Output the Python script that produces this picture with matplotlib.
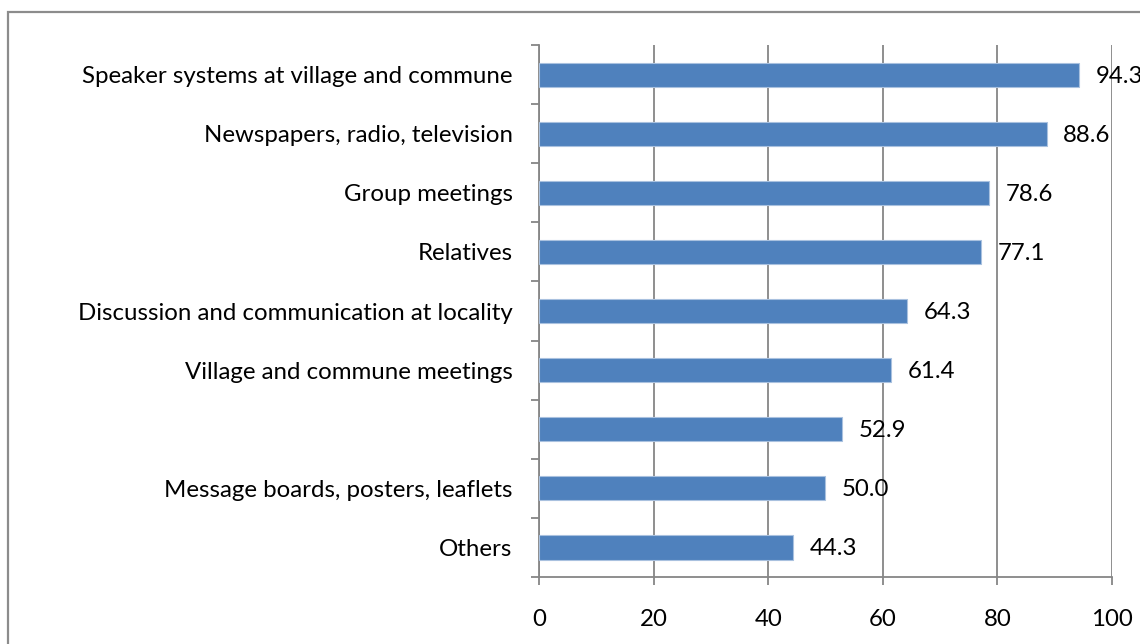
import matplotlib.pyplot as plt
from matplotlib.patches import Rectangle

categories = [
    "Speaker systems at village and commune",
    "Newspapers, radio, television",
    "Group meetings",
    "Relatives",
    "Discussion and communication at locality",
    "Village and commune meetings",
    "",
    "Message boards, posters, leaflets",
    "Others",
]
values = [94.3, 88.6, 78.6, 77.1, 64.3, 61.4, 52.9, 50.0, 44.3]
x_ticks = [0, 20, 40, 60, 80, 100]

plt.rcParams["font.family"] = ["Lato", "DejaVu Sans"]
fs = 17.3

fig = plt.figure(figsize=(11.4, 6.44), dpi=100)
ax = fig.add_axes([0.4728, 0.104, 0.5026, 0.826])

# outer chart frame, running off the right and bottom edges
fig.patches.append(Rectangle((8 / 1140, -0.2), 1.2, 1.2 - 12 / 644,
                             transform=fig.transFigure, fill=False,
                             edgecolor="#8c8c8c", linewidth=1.6))

pos = list(range(len(categories)))
ax.barh(pos, values, height=0.41, color="#4f81bd", edgecolor="#a9c1df",
        linewidth=0.8, zorder=3)
for p, v in zip(pos, values):
    ax.annotate(f"{v:.1f}", xy=(v, p), xytext=(12, -1), textcoords="offset points",
                va="center", ha="left", fontsize=fs, color="#000000",
                annotation_clip=False, zorder=4)

ax.set_xlim(0, 100)
ax.set_ylim(len(categories) - 0.5, -0.5)
ax.set_xticks(x_ticks)
ax.set_xticklabels([str(t) for t in x_ticks], fontsize=fs)
ax.set_yticks(pos)
ax.set_yticklabels(categories, fontsize=fs)
ax.set_yticks([i - 0.5 for i in range(len(categories) + 1)], minor=True)

ax.grid(axis="x", color="#868686", linewidth=1.3, zorder=0)
ax.tick_params(axis="y", which="major", length=0, pad=19)
ax.tick_params(axis="y", which="minor", length=6, width=1.3, color="#868686", direction="out")
ax.tick_params(axis="x", length=6, width=1.3, color="#868686", pad=17)
for side in ["top", "right"]:
    ax.spines[side].set_visible(False)
for side in ["left", "bottom"]:
    ax.spines[side].set_color("#868686")
    ax.spines[side].set_linewidth(1.3)

fig.savefig("out.png", dpi=100)
